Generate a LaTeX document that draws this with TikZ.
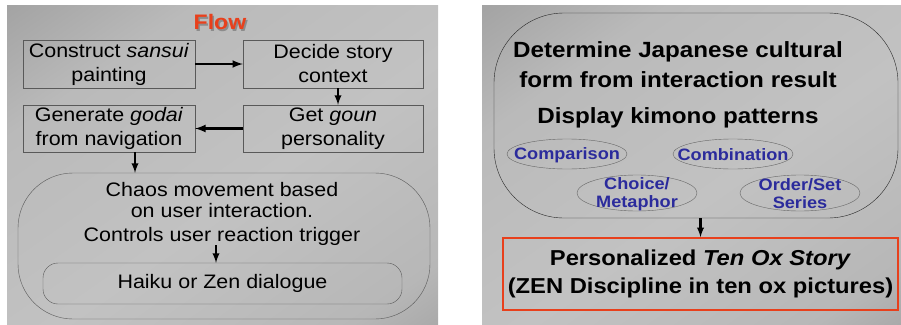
\documentclass[tikz,border=0pt]{standalone}
\usepackage{fontspec}
\setmainfont{Liberation Sans}[FakeStretch=1.1]
\usetikzlibrary{shapes.geometric}
\definecolor{flowred}{HTML}{E8401C}
\definecolor{patblue}{HTML}{2B2B9C}
\definecolor{panedark}{HTML}{8C8C8C}
\definecolor{panelight}{HTML}{C2C2C2}
\pgfdeclareverticalshading{panegrad}{100bp}{color(0bp)=(panedark); color(22bp)=(panelight!80!panedark);
  color(45bp)=(panelight); color(70bp)=(panelight!85!panedark); color(100bp)=(panedark)}

\begin{document}
\begin{tikzpicture}[>=latex, x=1pt, y=-1pt,
    pane/.style={shading=panegrad, shading angle=35},
    box/.style={draw=black!65, align=center, inner sep=0pt, font=\fontsize{19.5}{24}\selectfont},
    plain/.style={align=center, inner sep=0pt, font=\fontsize{19.5}{21}\selectfont},
    head/.style={align=center, inner sep=0pt, font=\bfseries\fontsize{22}{30}\selectfont},
    pattern/.style={ellipse, draw=black!60, inner sep=0pt, minimum width=120},
    patlabel/.style={align=center, inner sep=0pt, text=patblue, font=\bfseries\fontsize{16.5}{18}\selectfont},
    thick arrow/.style={->, line width=2.5pt},
    thin arrow/.style={->, line width=2.2pt}]
    \useasboundingbox (0,0) rectangle (901,324);
    \shade[pane] (7,5) rectangle (438,324);
    \shade[pane] (482,5) rectangle (901,324);

    \path
    % Title
    (221.5,23.5) node[head,text=black!45,font=\bfseries\fontsize{21}{21}\selectfont] (flowshadow) {Flow}
    (220,22)     node[head,text=flowred,font=\bfseries\fontsize{21}{21}\selectfont]  (flow) {Flow}

    % Boxes of the flow
    (109,64)    node[box,minimum width=172,minimum height=48] (construct) {Construct \textit{sansui}\\painting}
    (333,64)    node[box,minimum width=180,minimum height=48] (decide) {Decide story\\context}
    (109,128.5) node[box,minimum width=172,minimum height=47] (godai) {Generate \textit{godai}\\from navigation}
    (333,128.5) node[box,minimum width=180,minimum height=47] (goun) {Get \textit{goun}\\personality}

    % Chaos movement
    (224,246)   node[draw=black!65,rounded corners=55,minimum width=412,minimum height=146] (chaos) {}
    (222,200)   node[plain] (movement) {Chaos movement based\\on user interaction.}
    (222,236)   node[plain] (trigger) {Controls user reaction trigger}
    (222.5,283.5) node[box,rounded corners=15,minimum width=359,minimum height=41] (haiku) {Haiku or Zen dialogue}

    % Cultural form
    (696,115.5) node[draw=black!85,rounded corners=70,minimum width=404,minimum height=205] (kimono) {}
    (678,65)    node[head] (determine) {Determine Japanese cultural\\form from interaction result}
    (678,118)   node[head] (display) {Display kimono patterns}

    % Kimono patterns
    (567,154)   node[pattern,minimum height=30] (comparison) {}
    (733,154)   node[pattern,minimum height=30] (combination) {}
    (637,193)   node[pattern,minimum height=36] (choice) {}
    (800,193)   node[pattern,minimum height=36] (order) {}
    (567,155)   node[patlabel] (comparisontxt) {Comparison}
    (733,155)   node[patlabel] (combinationtxt) {Combination}
    (637,194)   node[patlabel] (choicetxt) {Choice/\\Metaphor}
    (800,194)   node[patlabel] (ordertxt) {Order/Set\\Series}

    % Ten ox story
    (700.5,274) node[draw=flowred,line width=1.8pt,minimum width=395,minimum height=72,
                     align=center,inner sep=0pt,font=\bfseries\fontsize{21.6}{28}\selectfont] (story)
                {Personalized \textit{Ten Ox Story}\\(ZEN Discipline in ten ox pictures)};

    % Link the steps
    \draw[thick arrow] (construct.east)--(decide.west);
    \draw[thin arrow] ([xshift=5pt]decide.south)--([xshift=5pt]goun.north);
    \draw[thick arrow] (goun.west)--(godai.east);
    \draw[thin arrow] ([xshift=26pt]godai.south)--([xshift=26pt]godai.south |- chaos.north);
    \draw[thin arrow] ([xshift=-6pt]trigger.south)--([xshift=-6pt]trigger.south |- haiku.north);
    \draw[thin arrow] (kimono.south -| story.north)--(story.north);
\end{tikzpicture}
\end{document}
